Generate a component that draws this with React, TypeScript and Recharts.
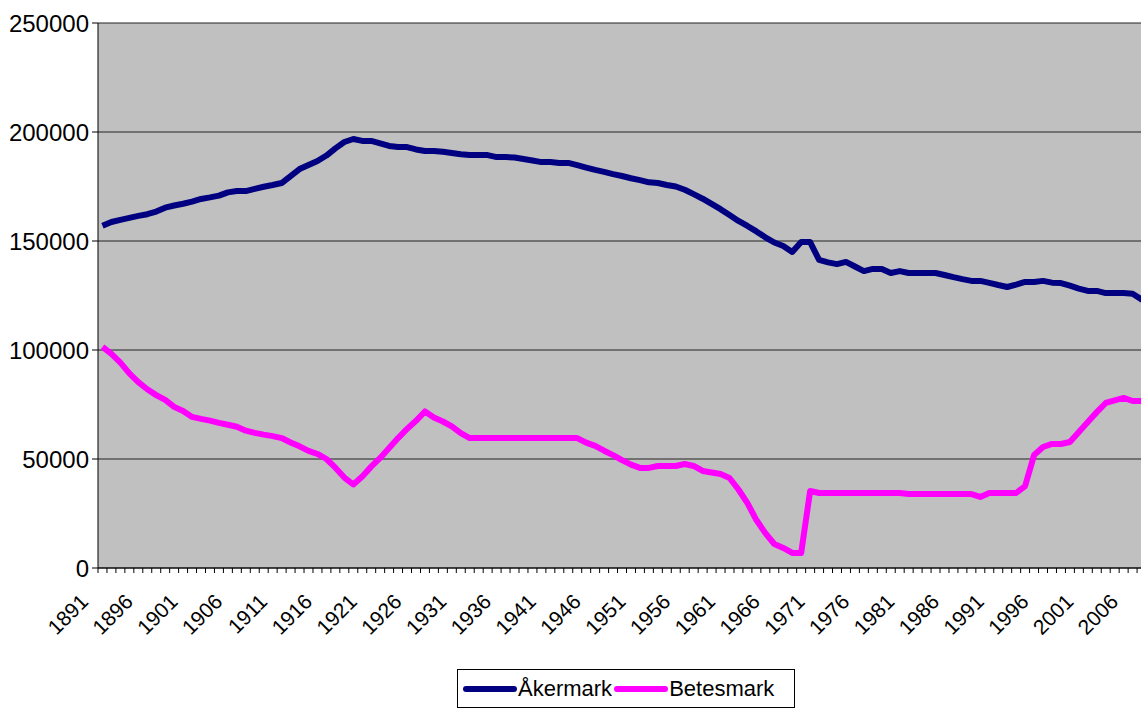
import { CartesianGrid, Legend, Line, LineChart, XAxis, YAxis } from "recharts";

const FONT = '"Liberation Sans", Arial, sans-serif';
const FIRST_YEAR = 1891;

// Åkermark, one value per year from 1891
const AKERMARK = [
  157000, 158700, 159700, 160600, 161500, 162300, 163500, 165300, 166300, 167100,
  168100, 169300, 170000, 170800, 172300, 172900, 172900, 173900, 174900, 175700,
  176600, 179800, 183000, 184900, 186700, 189200, 192500, 195400, 196800, 195900,
  195900, 194800, 193600, 193100, 193100, 192000, 191300, 191300, 190900, 190400,
  189800, 189400, 189400, 189400, 188500, 188500, 188300, 187600, 186900, 186200,
  186200, 185800, 185800, 184800, 183700, 182600, 181700, 180700, 179800, 178800,
  177900, 176900, 176600, 175700, 175000, 173500, 171500, 169400, 167000, 164600,
  161900, 159200, 156900, 154400, 151700, 149300, 147700, 145000, 149500, 149500,
  141300, 140200, 139400, 140400, 138300, 136200, 137200, 137200, 135300, 136200,
  135300, 135300, 135300, 135300, 134400, 133400, 132500, 131700, 131700, 130800,
  129800, 128900, 130000, 131200, 131200, 131700, 130900, 130700, 129500, 128200,
  127100, 127100, 126100, 126100, 126100, 125800, 123200, 122000,
];

// Betesmark, one value per year from 1891
const BETESMARK = [
  101400, 98200, 94200, 89300, 85300, 82000, 79300, 77100, 73900, 72000,
  69300, 68400, 67600, 66600, 65700, 64800, 63000, 62000, 61200, 60500,
  59600, 57600, 55800, 53700, 52300, 50000, 46000, 41500, 38300, 42000,
  46500, 50500, 55000, 59600, 63800, 67500, 71800, 69000, 67200, 65000,
  61900, 59600, 59600, 59600, 59600, 59600, 59600, 59600, 59600, 59600,
  59600, 59600, 59600, 59600, 57500, 56000, 53800, 51800, 49500, 47400,
  45900, 45900, 46800, 46800, 46800, 47700, 46800, 44500, 43800, 43100,
  41300, 36000, 29800, 22000, 16000, 11000, 9200, 6900, 6900, 35300,
  34400, 34400, 34400, 34400, 34400, 34400, 34400, 34400, 34400, 34400,
  33900, 33900, 33900, 33900, 33900, 33900, 33900, 33900, 32600, 34400,
  34400, 34400, 34400, 37600, 51800, 55500, 56900, 56900, 57800, 62400,
  67000, 71500, 75700, 76900, 78000, 76600, 76600, 76600,
];

const LABEL_YEARS = [
  1891, 1896, 1901, 1906, 1911, 1916, 1921, 1926, 1931, 1936, 1941, 1946,
  1951, 1956, 1961, 1966, 1971, 1976, 1981, 1986, 1991, 1996, 2001, 2006,
];
const Y_TICKS = [0, 50000, 100000, 150000, 200000, 250000];
const LEGEND_ORDER = ["akermark", "betesmark"];

const data = AKERMARK.map((v, i) => ({
  year: FIRST_YEAR + i,
  akermark: v,
  betesmark: BETESMARK[i],
}));

const lastYear = FIRST_YEAR + AKERMARK.length - 1;
// tick marks sit between categories, labels on the categories
const xTicks = [
  ...data.map((d) => d.year - 0.5),
  lastYear + 0.5,
  ...LABEL_YEARS,
].sort((a, b) => a - b);

function YearTick({ x, y, payload }: any) {
  const v = payload.value;
  if (!Number.isInteger(v)) {
    return <line x1={x} x2={x} y1={y} y2={y + 5} stroke="#000" />;
  }
  const ax = x - 13;
  const ay = y + 35;
  return (
    <text
      x={ax}
      y={ay}
      textAnchor="end"
      transform={`rotate(-45 ${ax} ${ay})`}
      fontSize={21}
      fontFamily={FONT}
      fill="#000"
    >
      {v}
    </text>
  );
}

function LegendBox({ payload }: any) {
  const items = [...(payload || [])].sort(
    (a: any, b: any) =>
      LEGEND_ORDER.indexOf(a.dataKey) - LEGEND_ORDER.indexOf(b.dataKey)
  );
  return (
    <div
      style={{
        display: "flex",
        alignItems: "center",
        height: "100%",
        boxSizing: "border-box",
        border: "1px solid #000",
        background: "#fff",
        padding: "0 5px",
        fontFamily: FONT,
        fontSize: 22,
        color: "#000",
      }}
    >
      {items.map((p: any) => (
        <span key={p.value} style={{ display: "flex", alignItems: "center" }}>
          <svg width={54} height={8}>
            <line
              x1={3}
              x2={51}
              y1={4}
              y2={4}
              stroke={p.color}
              strokeWidth={6}
              strokeLinecap="round"
            />
          </svg>
          <span style={{ marginLeft: 1, marginRight: 2 }}>{p.value}</span>
        </span>
      ))}
    </div>
  );
}

export default function App() {
  return (
    <div
      style={{
        position: "absolute",
        left: 0,
        top: 0,
        width: 1141,
        height: 710,
        overflow: "hidden",
        background: "#fff",
      }}
    >
      <LineChart
        width={1155}
        height={710}
        data={data}
        margin={{ top: 23, right: 0, left: 0, bottom: 42 }}
      >
        <CartesianGrid
          vertical={false}
          fill="#C0C0C0"
          stroke="#222"
          fillOpacity={1}
        />
        <XAxis
          dataKey="year"
          type="number"
          domain={[FIRST_YEAR - 0.5, lastYear + 0.5]}
          ticks={xTicks}
          interval={0}
          tickSize={0}
          tickMargin={0}
          tickLine={false}
          axisLine={{ stroke: "#000" }}
          tick={<YearTick />}
          height={100}
        />
        <YAxis
          domain={[0, 250000]}
          ticks={Y_TICKS}
          width={98}
          tickSize={6}
          tickMargin={3}
          tickLine={{ stroke: "#000" }}
          axisLine={{ stroke: "#000" }}
          tick={{ fontSize: 24, fontFamily: FONT, fill: "#000" }}
        />
        <Legend
          verticalAlign="middle"
          layout="horizontal"
          content={<LegendBox />}
          wrapperStyle={{ left: 457, top: 669, width: 338, height: 39 }}
        />
        <Line
          type="linear"
          dataKey="akermark"
          name="Åkermark"
          stroke="#000080"
          strokeWidth={6}
          strokeLinejoin="round"
          dot={false}
          isAnimationActive={false}
        />
        <Line
          type="linear"
          dataKey="betesmark"
          name="Betesmark"
          stroke="#FF00FF"
          strokeWidth={6}
          strokeLinejoin="round"
          dot={false}
          isAnimationActive={false}
        />
      </LineChart>
    </div>
  );
}
